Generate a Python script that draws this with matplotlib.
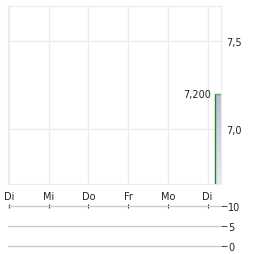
import matplotlib.pyplot as plt
import numpy as np
from matplotlib.colors import to_rgb

# day labels (x axis) and price series
days = ['Di', 'Mi', 'Do', 'Fr', 'Mo', 'Di']
price_x = [5.2, 5.2, 5.33]
price = [6.5, 7.2, 7.2]
last_label = '7,200'
price_ticks = [7.0, 7.5]
price_ticklabels = ['7,0', '7,5']
vol_ticks = [0, 5, 10]
vol_ticklabels = ['0', '5', '10']

W, H = 264, 255
fig = plt.figure(figsize=(W / 100, H / 100), dpi=100)

ymin, ymax = 6.6875, 7.699
ax = fig.add_axes([8 / W, (H - 185) / H, 213 / W, 178 / H])

# gradient fill under the line, built from thin bands
top_c = np.array(to_rgb('#b4c3d0'))
bot_c = np.array(to_rgb('#e4eaef'))
levels = np.linspace(ymin, max(price), 30)
for i in range(len(levels) - 1):
    t = i / (len(levels) - 2)
    c = bot_c + (top_c - bot_c) * t
    lo = levels[i]
    hi = levels[i + 1]
    ax.fill_between(price_x[1:], [hi, hi], [lo, lo], color=c, lw=0, zorder=1)
ax.plot(price_x[:2], price[:2], color='#2e7d2e', lw=1.0, zorder=3)
ax.plot(price_x[1:], price[1:], color='#5fa85f', lw=1.0, zorder=3)
ax.set_xlim(-0.025, 5.34)
ax.set_ylim(ymin, ymax)

ax.text(price_x[0] - 0.11, price[-1], last_label, ha='right', va='center',
        fontsize=7, color='#222222')

ax.set_xticks(range(len(days)))
ax.set_xticklabels(days)
ax.set_yticks(price_ticks)
ax.set_yticklabels(price_ticklabels)
ax.yaxis.tick_right()
ax.tick_params(axis='both', length=0, labelsize=7, colors='#222222')
ax.tick_params(axis='y', pad=4)
ax.tick_params(axis='x', pad=5)
ax.grid(True, color='#ececec', lw=1)
for s in ax.spines.values():
    s.set_color('#ececec')
ax.set_axisbelow(True)

# volume panel
vax = fig.add_axes([8 / W, (H - 249) / H, 213 / W, 44 / H])
vax.set_xlim(-0.025, 5.34)
vax.set_ylim(-0.5, 10.5)
vax.set_yticks(vol_ticks)
vax.set_yticklabels(vol_ticklabels)
vax.yaxis.tick_right()
vax.tick_params(axis='y', length=4, width=0.8, colors='#555555', labelsize=7,
                labelcolor='#222222', pad=1)
vax.grid(True, axis='y', color='#cccccc', lw=1)
vax.set_xticks(range(len(days)))
vax.xaxis.tick_top()
vax.tick_params(axis='x', length=3, width=0.8, direction='inout',
                colors='#222222', labeltop=False)
for s in vax.spines.values():
    s.set_visible(False)
vax.spines['top'].set_position(('data', 10))

fig.savefig('out.png', dpi=100)
